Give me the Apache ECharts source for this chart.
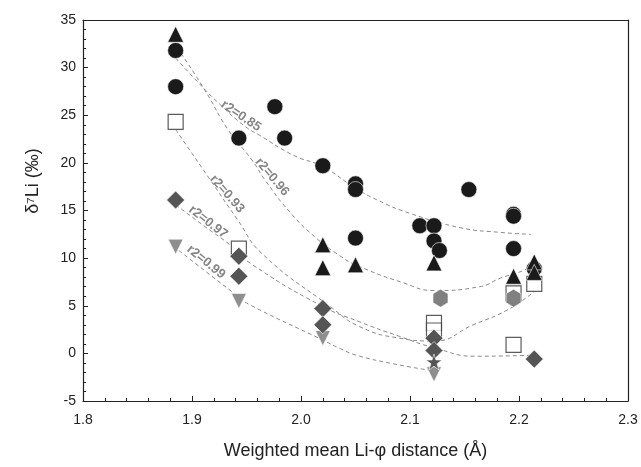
<!DOCTYPE html>
<html lang="en">
<head>
    <meta charset="UTF-8">
    <script type="text/javascript" src="https://cdn.jsdelivr.net/npm/echarts@6.0.0/dist/echarts.min.js"></script>
    <style>
        html, body {
            margin: 0;
            overflow: hidden;
            background: #fff;
        }
        #viewport {
            position: absolute;
            left: 0px;
            top: 0px;
            width: 641px;
            height: 467px;
        }
    </style>
</head>
<body>
<div id="viewport"></div>
<script>
    // measured points, [distance, d7Li]
    var circles = [
        [1.885, 31.8], [1.885, 28.0], [1.943, 22.6], [1.976, 25.9], [1.985, 22.6],
        [2.020, 19.7], [2.050, 17.8], [2.050, 17.2], [2.050, 12.1], [2.109, 13.4],
        [2.122, 13.4], [2.122, 11.8], [2.127, 10.8], [2.154, 17.2], [2.195, 14.6],
        [2.195, 14.4], [2.195, 11.0], [2.214, 8.9]
    ];
    var trianglesUp = [
        [1.885, 33.5], [2.020, 11.4], [2.020, 9.0], [2.050, 9.3], [2.122, 9.5],
        [2.195, 8.1], [2.214, 9.6], [2.214, 8.5]
    ];
    var squares = [
        [1.885, 24.3], [1.943, 11.0], [2.122, 3.2], [2.122, 2.4], [2.195, 6.3],
        [2.195, 0.9], [2.214, 7.3]
    ];
    var diamonds = [
        [1.885, 16.1], [1.943, 10.2], [1.943, 8.1], [2.020, 4.7], [2.020, 3.0],
        [2.122, 1.6], [2.122, 0.3], [2.214, -0.6]
    ];
    var trianglesDown = [
        [1.885, 11.2], [1.943, 5.5], [2.020, 1.6], [2.122, -2.2]
    ];
    var hexagons = [[2.128, 5.8], [2.195, 5.8]];
    var stars = [[2.122, -0.9]];

    // fitted trends, points
    var fit085 = [[1.885, 31.0], [1.906, 28.4], [1.926, 26.1], [1.949, 23.8], [1.962, 22.9],
        [1.993, 20.8], [2.020, 19.6], [2.048, 17.5], [2.070, 16.1], [2.100, 14.7],
        [2.146, 13.2], [2.183, 12.7], [2.211, 12.5]];
    var fit096 = [[1.890, 31.5], [1.912, 27.6], [1.933, 23.5], [1.955, 20.3], [1.967, 18.2],
        [1.990, 14.8], [2.014, 12.1], [2.035, 10.3], [2.050, 9.3], [2.094, 7.4],
        [2.122, 6.6], [2.164, 7.0], [2.183, 7.9], [2.204, 8.7], [2.213, 9.3]];
    var fit093 = [[1.885, 23.5], [1.915, 18.5], [1.942, 14.0], [1.964, 10.5], [2.027, 4.9],
        [2.054, 2.8], [2.090, 1.6], [2.122, 1.3], [2.158, 3.0], [2.190, 4.6], [2.214, 6.5]];
    var fit097 = [[1.885, 15.6], [1.912, 13.3], [1.937, 11.2], [1.953, 9.5], [2.017, 5.1],
        [2.054, 3.3], [2.090, 1.8], [2.122, 0.6], [2.160, -0.3], [2.212, -0.2]];
    var fit099 = [[1.888, 10.8], [1.942, 6.0], [1.953, 5.1], [2.020, 1.4], [2.036, 0.5],
        [2.051, -0.2], [2.085, -1.1], [2.117, -1.75]];

    var fitLabels = ['r2=0.85', 'r2=0.96', 'r2=0.93', 'r2=0.97', 'r2=0.99'];

    var FONT = '"Liberation Sans", Arial, "DejaVu Sans", sans-serif';
    var hexPath = 'path://M50,0 L93.3,25 L93.3,75 L50,100 L6.7,75 L6.7,25 Z';
    var starPath = 'path://M50,0 L61.8,35.4 L100,35.4 L69.1,57.3 L80.9,93.5 L50,71.5 L19.1,93.5 L30.9,57.3 L0,35.4 L38.2,35.4 Z';

    function fitLine(data) {
        return {
            type: 'line', data: data, smooth: true, showSymbol: false, silent: true,
            z: 1,
            lineStyle: { color: '#8a8a8a', width: 1, type: [4, 3] }
        };
    }

    function dots(data, symbol, size, color, extra) {
        var s = {
            type: 'scatter', data: data, symbol: symbol, symbolSize: size, z: 3,
            itemStyle: { color: color, borderColor: '#fff', borderWidth: 0.6, opacity: 1 }
        };
        return Object.assign(s, extra || {});
    }

    function labelText(text, x, y, deg) {
        return {
            type: 'text', x: x, y: y, rotation: -deg * Math.PI / 180, z: 10,
            style: {
                text: text, fill: '#858585', fontSize: 13, fontWeight: 'bold',
                fontFamily: FONT, align: 'center', verticalAlign: 'middle'
            }
        };
    }

    // main axes carry ticks and labels; the twin axes only close the frame
    function axis(extra) {
        return Object.assign({
            type: 'value',
            axisLine: { show: true, onZero: false, lineStyle: { color: '#222', width: 1.2 } },
            axisTick: { show: true, inside: true, length: 5, lineStyle: { color: '#222', width: 1 } },
            minorTick: { show: true, splitNumber: 5, length: 3, lineStyle: { color: '#222', width: 1 } },
            splitLine: { show: false },
            minorSplitLine: { show: false }
        }, extra);
    }

    function frameAxis(extra) {
        return Object.assign({
            type: 'value',
            axisLine: { show: true, onZero: false, lineStyle: { color: '#222', width: 1.2 } },
            axisTick: { show: false },
            axisLabel: { show: false },
            splitLine: { show: false }
        }, extra);
    }

    var myChart = echarts.init(document.getElementById('viewport'), null, { renderer: 'canvas' });

    var option = {
        animation: false,
        backgroundColor: '#fff',
        grid: { left: 83, top: 20, right: 13, bottom: 66 },
        xAxis: [
            axis({
                min: 1.8, max: 2.3, interval: 0.1, position: 'bottom',
                name: 'Weighted mean Li-φ distance (Å)',
                nameLocation: 'middle', nameGap: 41,
                nameTextStyle: { fontSize: 18, color: '#222', fontFamily: FONT },
                axisLabel: {
                    fontSize: 14, color: '#222', fontFamily: FONT, margin: 12,
                    formatter: function (v) { return v.toFixed(1); }
                }
            }),
            frameAxis({ min: 1.8, max: 2.3, position: 'top' })
        ],
        yAxis: [
            axis({
                min: -5, max: 35, interval: 5, position: 'left',
                axisLabel: { fontSize: 14, color: '#222', fontFamily: FONT, margin: 7 }
            }),
            frameAxis({ min: -5, max: 35, position: 'right' })
        ],
        graphic: [
            {
                type: 'text', x: 33, y: 181, rotation: Math.PI / 2,
                style: {
                    text: 'δ⁷Li (‰)', fill: '#222', fontSize: 18, fontFamily: FONT,
                    align: 'center', verticalAlign: 'middle'
                }
            },
            labelText(fitLabels[0], 241, 116, 34),
            labelText(fitLabels[1], 272, 177, 50),
            labelText(fitLabels[2], 227, 194, 49),
            labelText(fitLabels[3], 208, 222, 38),
            labelText(fitLabels[4], 206, 262, 39)
        ],
        series: [
            fitLine(fit085),
            fitLine(fit096),
            fitLine(fit093),
            fitLine(fit097),
            fitLine(fit099),
            dots(squares, 'rect', 15, '#fff', {
                itemStyle: { color: '#fff', borderColor: '#333', borderWidth: 1.2 }
            }),
            dots(trianglesDown, 'triangle', 15, '#8e8e8e', { symbolRotate: 180 }),
            dots(circles, 'circle', 16, '#1a1a1a'),
            dots(trianglesUp, 'triangle', 16, '#1a1a1a'),
            dots(diamonds, 'diamond', 18, '#555555'),
            dots(hexagons, hexPath, [15, 18], '#808080'),
            dots(stars, starPath, 16, '#555555')
        ]
    };

    myChart.setOption(option);
</script>
</body>
</html>
